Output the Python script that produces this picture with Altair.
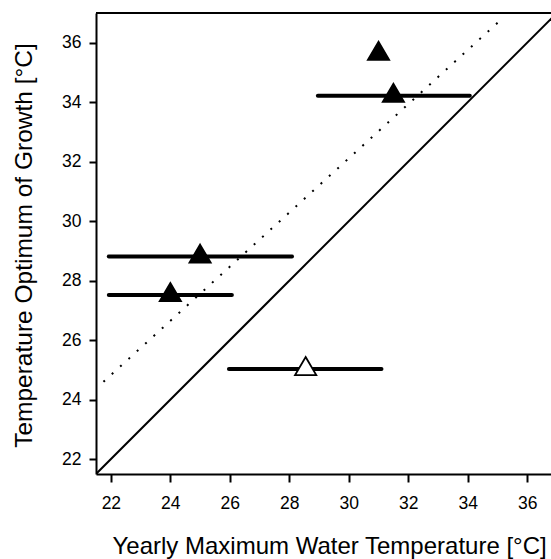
import altair as alt
import pandas as pd

# Data
pt_x = [31.0, 31.5, 25.0, 24.0, 28.55]
pt_y = [35.63, 34.22, 28.81, 27.52, 25.03]
pt_kind = ["filled", "filled", "filled", "filled", "open"]

bar_lo = [28.96, 21.93, 21.93, 25.97]
bar_hi = [34.07, 28.09, 26.07, 31.10]
bar_y = [34.22, 28.81, 27.52, 25.03]

diag_x = [21.5, 37.0]
diag_y = [21.5, 37.0]

reg_x = [21.75, 35.2]
reg_y = [24.6, 36.85]

tick_vals = list(range(22, 37))

W, H = 455, 461
FONT = "Liberation Sans"

pts = pd.DataFrame({"x": pt_x, "y": pt_y, "kind": pt_kind})
bars = pd.DataFrame({"lo": bar_lo, "hi": bar_hi, "y": bar_y})
diag = pd.DataFrame({"x": diag_x, "y": diag_y})
reg = pd.DataFrame({"x": reg_x, "y": reg_y})

xscale = alt.Scale(domain=[21.5, 36.8], nice=False, zero=False)
yscale = alt.Scale(domain=[21.5, 37.0], nice=False, zero=False)

xaxis = alt.Axis(
    title="Yearly Maximum Water Temperature [°C]",
    values=tick_vals,
    labelExpr="datum.value % 2 == 0 ? datum.label : ''",
    tickSize={"condition": {"test": "datum.value % 2 != 0", "value": 5}, "value": 8},
    tickWidth=2, tickColor="black",
    domainWidth=2, domainColor="black",
    labelFont=FONT, labelFontSize=17.5, labelColor="black", labelPadding=12,
    titleFont=FONT, titleFontSize=24, titleFontWeight="normal", titleColor="black",
    titleAlign="left", titleX=16, titleY=79, titleBaseline="alphabetic",
    grid=False,
)
yaxis = alt.Axis(
    title="Temperature Optimum of Growth [°C]",
    values=tick_vals,
    labelExpr="datum.value % 2 == 0 ? datum.label : ''",
    tickSize={"condition": {"test": "datum.value % 2 != 0", "value": 4}, "value": 7},
    tickWidth=2, tickColor="black",
    domainWidth=2, domainColor="black",
    labelFont=FONT, labelFontSize=17.5, labelColor="black", labelPadding=8,
    titleFont=FONT, titleFontSize=24.5, titleFontWeight="normal", titleColor="black",
    titleAngle=270, titleAlign="center", titleX=-65, titleY=232, titleBaseline="alphabetic",
    grid=False,
)

diag_line = alt.Chart(diag).mark_line(color="black", strokeWidth=2, clip=True).encode(
    x=alt.X("x:Q", scale=xscale, axis=xaxis),
    y=alt.Y("y:Q", scale=yscale, axis=yaxis),
)

reg_line = alt.Chart(reg).mark_line(color="black", strokeWidth=2, strokeDash=[2, 9.3], clip=True).encode(
    x=alt.X("x:Q", scale=xscale),
    y=alt.Y("y:Q", scale=yscale),
)

err = alt.Chart(bars).mark_rule(color="black", strokeWidth=4, strokeCap="round").encode(
    x=alt.X("lo:Q", scale=xscale),
    x2="hi:Q",
    y=alt.Y("y:Q", scale=yscale),
)

tri = "M0,-1.13L1,0.57L-1,0.57Z"
points = alt.Chart(pts).mark_point(shape=tri, size=450, stroke="black", strokeWidth=1.8,
                                   filled=True, opacity=1).encode(
    x=alt.X("x:Q", scale=xscale),
    y=alt.Y("y:Q", scale=yscale),
    fill=alt.Fill("kind:N", scale=alt.Scale(domain=["filled", "open"], range=["black", "white"]), legend=None),
)

top_border = alt.Chart(pd.DataFrame({"a": [0]})).mark_rule(color="black", strokeWidth=2).encode(
    x=alt.value(0), x2=alt.value(W), y=alt.value(0),
)

chart = alt.layer(diag_line, reg_line, err, points, top_border).properties(
    width=W, height=H,
    autosize=alt.AutoSizeParams(type="none"),
    padding={"left": 96, "top": 13, "right": 0, "bottom": 85},
    background="white",
).configure_view(stroke=None)

chart.save("out.html", embed_options={"renderer": "svg", "actions": False})
